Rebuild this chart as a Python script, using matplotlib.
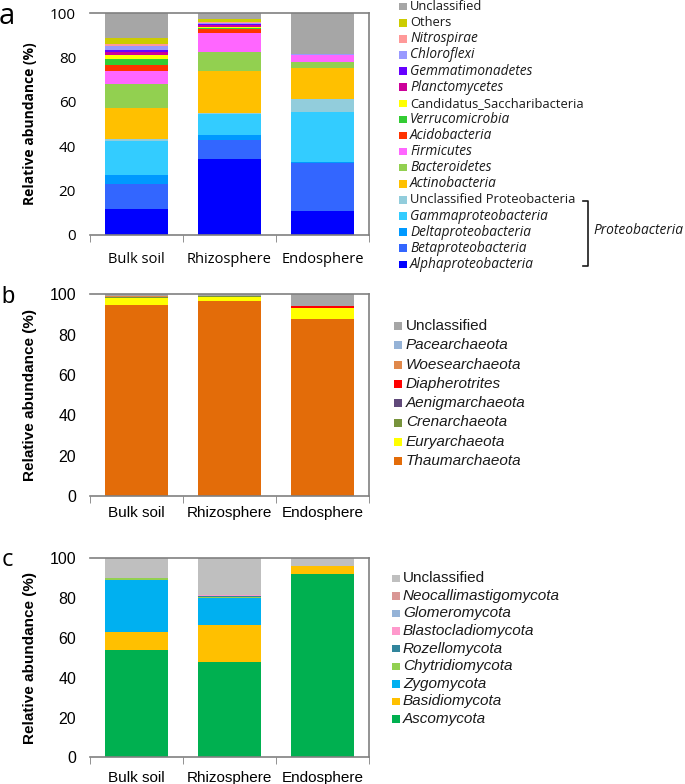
import numpy as np
import matplotlib
matplotlib.use('Agg')
import matplotlib.pyplot as plt
from matplotlib.patches import Rectangle
from matplotlib.lines import Line2D

W, H = 685, 784

samples = ['Bulk soil', 'Rhizosphere', 'Endosphere']

# panel a - bacteria (bottom to top)
taxa_a = ['Alphaproteobacteria', 'Betaproteobacteria', 'Deltaproteobacteria',
          'Gammaproteobacteria', 'Unclassified Proteobacteria', 'Actinobacteria',
          'Bacteroidetes', 'Firmicutes', 'Acidobacteria', 'Verrucomicrobia',
          'Candidatus_Saccharibacteria', 'Planctomycetes', 'Gemmatimonadetes',
          'Chloroflexi', 'Nitrospirae', 'Others', 'Unclassified']
bulk_a = [11.7, 11.5, 4.0, 15.4, 0.7, 14.1, 10.9, 5.7, 2.8, 2.7, 1.7, 1.2, 1.2, 1.7, 0.9, 2.7, 11.1]
rhizo_a = [34.3, 8.7, 2.1, 9.3, 0.5, 19.2, 8.6, 8.4, 1.7, 0.6, 0.5, 0.6, 0.8, 0.4, 0.4, 1.2, 2.7]
endo_a = [11.0, 21.6, 0.3, 22.7, 5.8, 13.9, 2.9, 2.9, 0.1, 0.05, 0.05, 0.05, 0.05, 0.05, 0.05, 0.2, 18.3]
upright_a = ['Unclassified Proteobacteria', 'Candidatus_Saccharibacteria', 'Others', 'Unclassified']

# panel b - archaea
taxa_b = ['Thaumarchaeota', 'Euryarchaeota', 'Crenarchaeota', 'Aenigmarchaeota',
          'Diapherotrites', 'Woesearchaeota', 'Pacearchaeota', 'Unclassified']
bulk_b = [94.7, 3.6, 0.5, 0.1, 0.0, 0.1, 0.1, 0.9]
rhizo_b = [96.7, 1.8, 0.8, 0.0, 0.0, 0.0, 0.0, 0.7]
endo_b = [87.6, 5.5, 0.0, 0.0, 1.2, 0.0, 0.0, 5.7]

# panel c - fungi
taxa_c = ['Ascomycota', 'Basidiomycota', 'Zygomycota', 'Chytridiomycota', 'Rozellomycota',
          'Blastocladiomycota', 'Glomeromycota', 'Neocallimastigomycota', 'Unclassified']
bulk_c = [53.9, 8.9, 26.5, 0.8, 0.0, 0.0, 0.0, 0.0, 9.9]
rhizo_c = [47.9, 18.6, 13.4, 0.8, 0.2, 0.5, 0.2, 0.2, 18.2]
endo_c = [92.1, 3.9, 0.1, 0.0, 0.0, 0.0, 0.0, 0.0, 3.9]

colors_a = ['#0000ff', '#3366ff', '#0099ff', '#33ccff', '#92cddc', '#ffc000',
            '#92d050', '#ff66ff', '#ff3300', '#33cc33', '#ffff00', '#cc0099',
            '#6600ff', '#9999ff', '#ff9999', '#cccc00', '#a6a6a6']
colors_b = ['#e36c09', '#ffff00', '#77933c', '#60497a', '#ff0000', '#e0884a', '#95b3d7', '#a6a6a6']
colors_c = ['#00b050', '#ffc000', '#00b0f0', '#92d050', '#31859c', '#ff99cc', '#95b3d7', '#d99694', '#bfbfbf']

fig = plt.figure(figsize=(W / 100, H / 100), dpi=100)


def px_axes(left, top, right, bottom):
    return fig.add_axes([left / W, 1 - bottom / H, (right - left) / W, (bottom - top) / H])


def stacked(ax, taxa, cols, data, family, tick_size, ylab_size, xlab_pad):
    vals = np.array(data).T
    x = np.arange(len(samples))
    base = np.zeros(len(samples))
    for k in range(len(taxa)):
        ax.bar(x, vals[k], 0.667, bottom=base, color=cols[k], linewidth=0)
        base += vals[k]
    ax.set_xlim(-0.5, 2.5)
    ax.set_ylim(0, 100)
    ax.set_xticks(x)
    ax.set_xticklabels(samples, family=family, fontsize=tick_size)
    ax.set_xticks([-0.5, 0.5, 1.5, 2.5], minor=True)
    ax.tick_params(axis='x', which='major', length=0, pad=xlab_pad)
    ax.tick_params(axis='x', which='minor', length=5, direction='out', color='#808080')
    ax.set_yticks(range(0, 101, 20))
    ax.set_yticklabels([str(v) for v in range(0, 101, 20)], family=family, fontsize=tick_size + 0.5)
    ax.tick_params(axis='y', length=0, pad=10)
    ax.spines['left'].set_visible(False)
    for s in ['top', 'right', 'bottom']:
        ax.spines[s].set_color('#808080')
        ax.spines[s].set_linewidth(1.2)
    ax.set_ylabel('Relative abundance (%)', family=family, fontsize=ylab_size, fontweight='bold')
    ax.yaxis.set_label_coords(-53 / 279, 0.5)


def legend(taxa, cols, upright, x_box, x_text, y_top, dy, box, family, size, it_size):
    for i, k in enumerate(range(len(taxa) - 1, -1, -1)):
        y = y_top + i * dy
        fig.patches.append(Rectangle((x_box / W, 1 - (y + box / 2) / H), box / W, box / H,
                                     transform=fig.transFigure, color=cols[k], linewidth=0))
        if taxa[k] in upright:
            style, fs = 'normal', size
        else:
            style, fs = 'italic', it_size
        fig.text(x_text / W, 1 - y / H, taxa[k], va='center', ha='left',
                 family=family, fontsize=fs, style=style, color='#1a1a1a')


# panel a
ax_a = px_axes(90, 13.3, 369, 235)
stacked(ax_a, taxa_a, colors_a, [bulk_a, rhizo_a, endo_a], 'Open Sans', 10.5, 10, 12)
legend(taxa_a, colors_a, upright_a, 399, 410, 6.7, 16.1, 7.5, 'Open Sans', 9.3, 9.8)
bx = [583 / W, 588 / W, 588 / W, 583 / W]
by = [1 - 201 / H, 1 - 201 / H, 1 - 266 / H, 1 - 266 / H]
fig.add_artist(Line2D(bx, by, color='#1a1a1a', lw=1.2, transform=fig.transFigure))
fig.text(593 / W, 1 - 231 / H, 'Proteobacteria', va='center', ha='left',
         family='Open Sans', fontsize=9.9, style='italic', color='#1a1a1a')
fig.text(7 / W, 1 - 16 / H, 'a', va='center', ha='center', family='Open Sans', fontsize=21)

# panel b
ax_b = px_axes(90, 294.3, 369, 496)
stacked(ax_b, taxa_b, colors_b, [bulk_b, rhizo_b, endo_b], 'Liberation Sans', 11, 11, 7)
legend(taxa_b, colors_b, ['Unclassified'], 394, 406, 326, 19.3, 8, 'Liberation Sans', 11, 11)
fig.text(8 / W, 1 - 297 / H, 'b', va='center', ha='center', family='Liberation Sans', fontsize=17)

# panel c
ax_c = px_axes(90, 558.3, 369, 757.3)
stacked(ax_c, taxa_c, colors_c, [bulk_c, rhizo_c, endo_c], 'Liberation Sans', 11, 11, 10)
legend(taxa_c, colors_c, ['Unclassified'], 392, 403, 578.3, 17.6, 7.5, 'Liberation Sans', 11, 11)
fig.text(7 / W, 1 - 560 / H, 'c', va='center', ha='center', family='Open Sans', fontsize=17)

plt.savefig('out.png', dpi=100)
print('saved out.png')
